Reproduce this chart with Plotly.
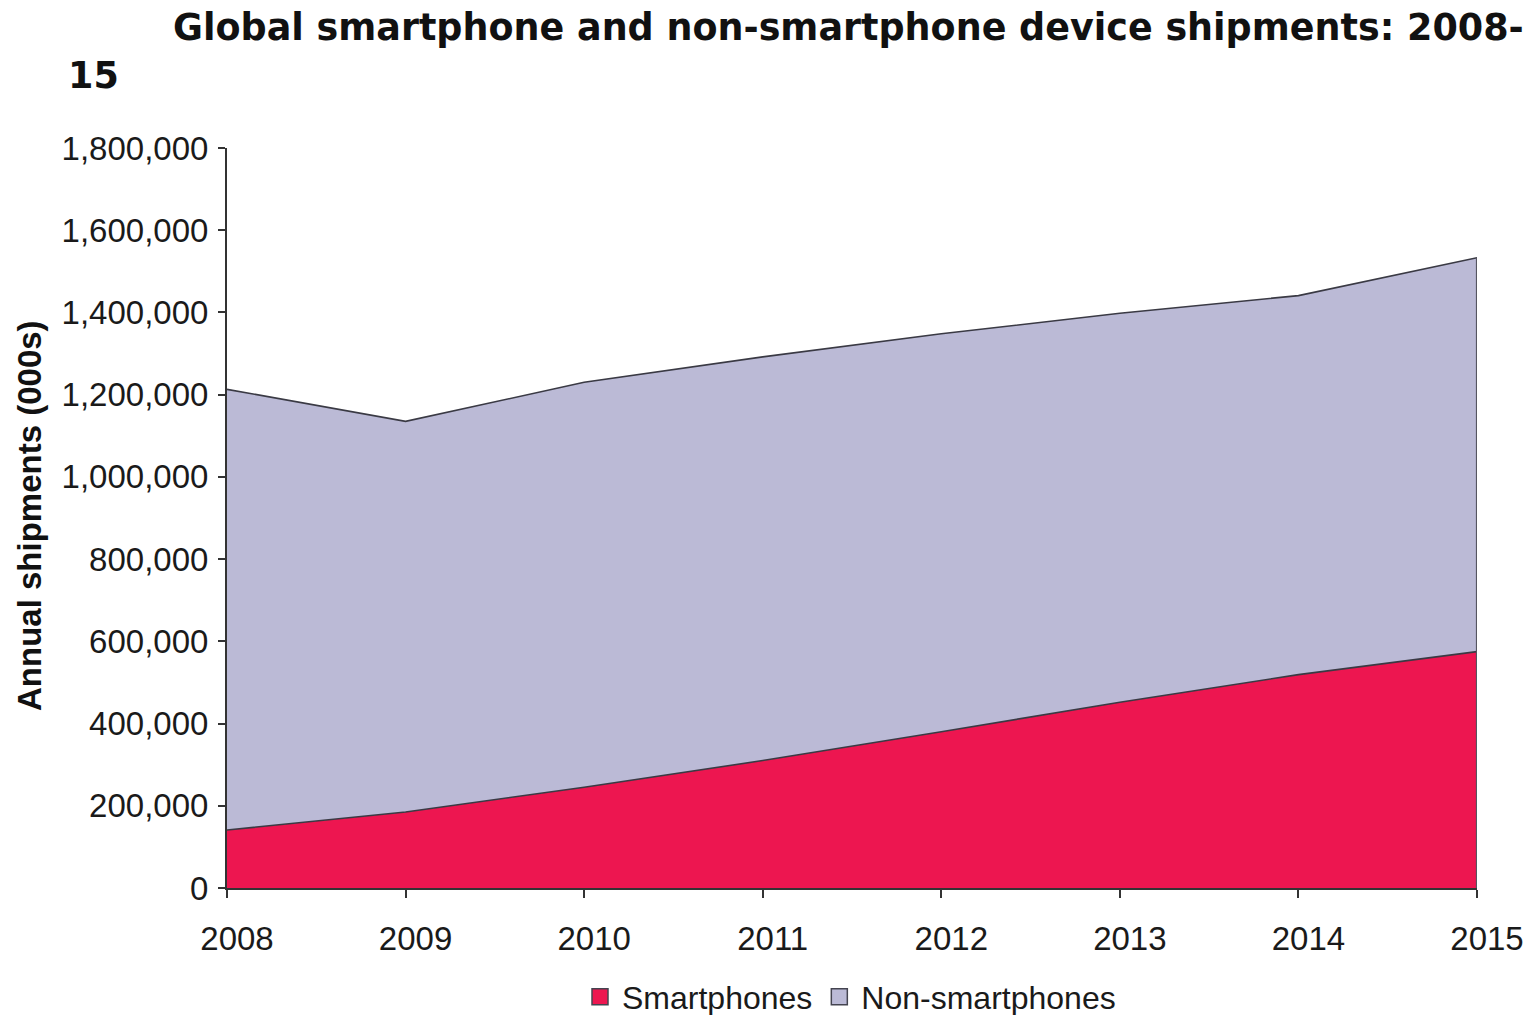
import plotly.graph_objects as go

# Annual shipments in thousands of units
years = [2008, 2009, 2010, 2011, 2012, 2013, 2014, 2015]
smartphones = [141000, 185000, 245000, 310000, 380000, 452000, 519000, 575000]
non_smartphones = [1072000, 950000, 985000, 982000, 968000, 946000, 922000, 958000]
y_ticks = [0, 200000, 400000, 600000, 800000, 1000000, 1200000, 1400000, 1600000, 1800000]

series_names = ["Smartphones", "Non-smartphones"]
series_colors = ["#ED1650", "#BBBAD6"]
edge_color = "#3a3a44"

W, H = 1537, 1015
L, R, T, B = 227, 60, 148, 127
plot_w, plot_h = W - L - R, H - T - B


def px_x(px):
    return (px - L) / plot_w


def px_y(py):
    return (H - B - py) / plot_h


fig = go.Figure()
for name, vals, col in zip(series_names, [smartphones, non_smartphones], series_colors):
    fig.add_trace(go.Scatter(
        x=years, y=vals, name=name, mode="lines",
        stackgroup="one", fillcolor=col,
        line=dict(color=edge_color, width=1.6),
        showlegend=False,
    ))

# closing edge of the stacked area at the last year
total_last = smartphones[-1] + non_smartphones[-1]
fig.add_trace(go.Scatter(
    x=[years[-1], years[-1]], y=[0, total_last], mode="lines",
    line=dict(color="#555560", width=2.2), showlegend=False, hoverinfo="skip",
))

# square swatches for the legend
for name, col in zip(series_names, series_colors):
    fig.add_trace(go.Scatter(
        x=[None], y=[None], name=name, mode="markers",
        marker=dict(symbol="square", size=24, color=col, line=dict(color="#444450", width=1.5)),
        showlegend=True,
    ))

fig.update_layout(
    width=W, height=H,
    margin=dict(l=L, r=R, t=T, b=B, autoexpand=False),
    paper_bgcolor="white", plot_bgcolor="white",
    font=dict(family="Liberation Sans, Arial, sans-serif", color="#1a1a1a"),
    showlegend=True,
    legend=dict(
        orientation="h", x=px_x(578), xanchor="left", y=px_y(997), yanchor="middle",
        font=dict(size=32, family="Liberation Sans, Arial, sans-serif", color="#1a1a1a"),
        traceorder="normal", itemwidth=34, bgcolor="rgba(0,0,0,0)",
    ),
    xaxis=dict(
        range=[years[0], years[-1]], tickvals=years, ticktext=[str(y) for y in years],
        showgrid=False, zeroline=False, showline=True, linecolor="#333333", linewidth=2,
        ticks="outside", ticklen=8, tickcolor="#333333", tickwidth=1.5,
        tickfont=dict(size=33, family="Liberation Sans, Arial, sans-serif", color="#1a1a1a"),
        ticklabelshift=10, ticklabelstandoff=12,
    ),
    yaxis=dict(
        range=[0, 1800000], tickvals=y_ticks, tickformat=",",
        showgrid=False, zeroline=False, showline=True, linecolor="#333333", linewidth=2,
        ticks="outside", ticklen=7, tickcolor="#333333", tickwidth=1.5,
        tickfont=dict(size=33, family="Liberation Sans, Arial, sans-serif", color="#1a1a1a"),
        ticklabelstandoff=3,
    ),
    annotations=[
        dict(text="<b>Global smartphone and non-smartphone device shipments: 2008-</b>",
             xref="paper", yref="paper", x=px_x(171), y=px_y(27),
             xanchor="left", yanchor="middle", showarrow=False,
             font=dict(size=36.5, family="DejaVu Sans, Verdana, sans-serif", color="#111111")),
        dict(text="<b>15</b>",
             xref="paper", yref="paper", x=px_x(66), y=px_y(75),
             xanchor="left", yanchor="middle", showarrow=False,
             font=dict(size=36.5, family="DejaVu Sans, Verdana, sans-serif", color="#111111")),
        dict(text="<b>Annual shipments (000s)</b>",
             xref="paper", yref="paper", x=px_x(29), y=px_y(515),
             xanchor="center", yanchor="middle", textangle=-90, showarrow=False,
             font=dict(size=33, family="Liberation Sans, Arial, sans-serif", color="#111111")),
    ],
)

fig.write_html("out.html")
